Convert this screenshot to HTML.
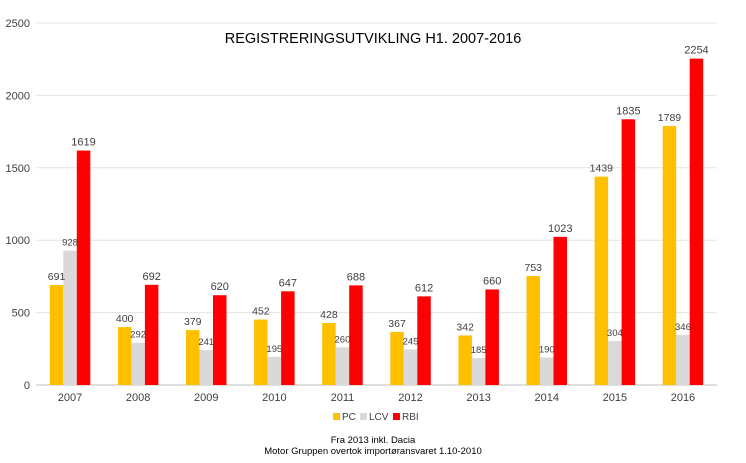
<!DOCTYPE html>
<html><head><meta charset="utf-8"><style>
body{margin:0;background:#fff;font-family:"Liberation Sans",sans-serif;}
svg text{font-family:"Liberation Sans",sans-serif;}
</style></head><body>
<svg id="c" width="746" height="458">
<text x="373" y="43" text-anchor="middle" font-size="14.5" fill="#000">REGISTRERINGSUTVIKLING H1. 2007-2016</text>
<g id="grid"></g><g id="bars"></g><g id="labels"></g>
<g>
<rect x="333" y="413" width="7" height="7" fill="#FFC000"/>
<text x="342" y="420" font-size="10" fill="#404040">PC</text>
<rect x="360" y="413" width="7" height="7" fill="#D9D9D9"/>
<text x="369" y="420" font-size="10" fill="#404040">LCV</text>
<rect x="393" y="413" width="7" height="7" fill="#FF0000"/>
<text x="402" y="420" font-size="10" fill="#404040">RBI</text>
</g>
<text x="373" y="443" text-anchor="middle" font-size="9.5" fill="#000">Fra 2013 inkl. Dacia</text>
<text x="373" y="454" text-anchor="middle" font-size="9.5" fill="#000">Motor Gruppen overtok importøransvaret 1.10-2010</text>
</svg>
<script>
const categories=["2007","2008","2009","2010","2011","2012","2013","2014","2015","2016"];
const pcValues=[691,400,379,452,428,367,342,753,1439,1789];
const lcvValues=[928,292,241,195,260,245,185,190,304,346];
const rbiValues=[1619,692,620,647,688,612,660,1023,1835,2254];
const yTicks=[0,500,1000,1500,2000,2500];
const NS="http://www.w3.org/2000/svg";
const left=36,right=717,y0=385,yTop=23,yMax=2500;
const step=(right-left)/categories.length,bw=13.5;
function y(v){return y0-(v/yMax)*(y0-yTop);}
function xc(i){return left+step*(i+0.5);}
function mk(tag,attrs,parent){const e=document.createElementNS(NS,tag);for(const k in attrs)e.setAttribute(k,attrs[k]);document.getElementById(parent).appendChild(e);return e;}
yTicks.forEach(t=>{
  const l=mk("line",{x1:left,x2:right,y1:y(t),y2:y(t),stroke:t===0?"#bfbfbf":"#e3e3e3","stroke-width":1},"grid");
  
  
  const tx=mk("text",{x:30,y:y(t)+4,"text-anchor":"end","font-size":11,fill:"#404040"},"grid");
  tx.textContent=t;
  
  
});
const series=[["pc",pcValues,"#FFC000",10.5],["lcv",lcvValues,"#D9D9D9",9.5],["rbi",rbiValues,"#FF0000",11]];
categories.forEach((c,i)=>{
  series.forEach((s,j)=>{
    const v=s[1][i];const bx=xc(i)+(j-1.5)*bw;
    const r=mk("rect",{x:bx,y:y(v),width:bw,height:y0-y(v),fill:s[2]},"bars");
    
    
    const t=mk("text",{x:bx+bw/2,y:y(v)-5,"text-anchor":"middle","font-size":s[3],fill:"#404040"},"labels");
    t.textContent=v;
    
    
  });
  const t=mk("text",{x:xc(i),y:401,"text-anchor":"middle","font-size":11,fill:"#404040"},"labels");
  t.textContent=c;
  
  
});
</script>
</body></html>
